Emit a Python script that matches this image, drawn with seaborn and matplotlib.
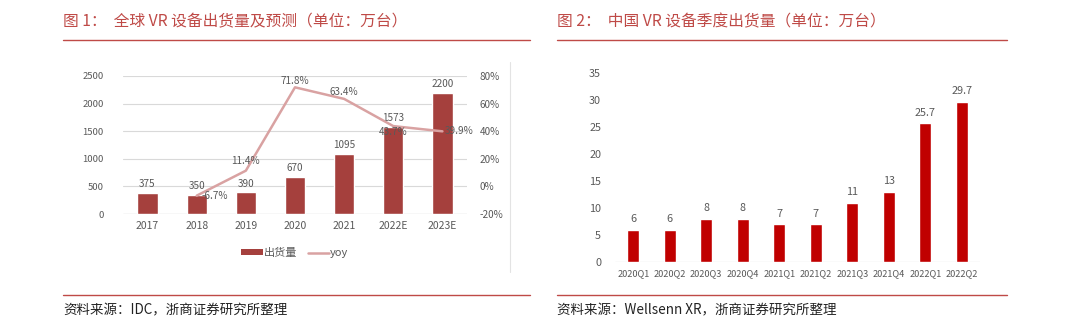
import numpy as np
import pandas as pd
import matplotlib
matplotlib.use("Agg")
import matplotlib.pyplot as plt
from matplotlib.lines import Line2D
from matplotlib.patches import Patch
import seaborn as sns

sns.set_theme(style="white")
plt.rcParams['font.family'] = ['Noto Sans CJK SC', 'DejaVu Sans']

# ---- data ----
years = ["2017", "2018", "2019", "2020", "2021", "2022E", "2023E"]
shipments = [375, 350, 390, 670, 1095, 1573, 2200]
yoy_years = ["2018", "2019", "2020", "2021", "2022E", "2023E"]
yoy = [-6.7, 11.4, 71.8, 63.4, 43.7, 39.9]
left_ticks = [0, 500, 1000, 1500, 2000, 2500]
right_ticks = [-20, 0, 20, 40, 60, 80]

quarters = ["2020Q1", "2020Q2", "2020Q3", "2020Q4", "2021Q1", "2021Q2",
            "2021Q3", "2021Q4", "2022Q1", "2022Q2"]
china = [6, 6, 8, 8, 7, 7, 11, 13, 25.7, 29.7]
china_ticks = [0, 5, 10, 15, 20, 25, 30, 35]

title1 = "图 1：  全球 VR 设备出货量及预测（单位：万台）"
title2 = "图 2：  中国 VR 设备季度出货量（单位：万台）"
src1 = "资料来源：IDC，浙商证券研究所整理"
src2 = "资料来源：Wellsenn XR，浙商证券研究所整理"

# ---- style ----
W, H = 1080, 336
BAR1 = "#A5403D"
LINE1 = "#D9A2A2"
BAR2 = "#C00000"
RED = "#BF4A47"
TXT = "#595959"
GRID = "#D9D9D9"

fig = plt.figure(figsize=(W / 100, H / 100), dpi=100)

def fx(x):
    return x / W

def fy(y):
    return 1 - y / H

# ---------------- left chart ----------------
ax1 = fig.add_axes([fx(123), fy(214), fx(467 - 123), fy(76) - fy(214)])
df1 = pd.DataFrame({"year": years, "val": shipments})
sns.barplot(data=df1, x="year", y="val", color=BAR1, width=0.41,
            saturation=1, ax=ax1, zorder=2)
ax1.set_xlim(-0.5, len(years) - 0.5)
ax1.set_ylim(0, 2500)
ax1.set_yticks(left_ticks)
ax1.set_yticklabels([str(t) for t in left_ticks])
ax1.yaxis.grid(True, color=GRID, linewidth=0.8)
ax1.set_axisbelow(True)
for s in ax1.spines.values():
    s.set_visible(False)
ax1.axhline(0, color=GRID, linewidth=0.9, zorder=1)
ax1.set_xlabel("")
ax1.set_ylabel("")
ax1.tick_params(axis="y", length=0, labelsize=6.8, colors=TXT, pad=14)
ax1.tick_params(axis="x", length=0, labelsize=7.5, colors=TXT, pad=5)
for i, v in enumerate(shipments):
    ax1.text(i, v + 70, str(v), ha="center", va="bottom", fontsize=7.2, color=TXT)

ax2 = ax1.twinx()
pos = [years.index(y) for y in yoy_years]
df2 = pd.DataFrame({"pos": pos, "yoy": yoy})
sns.lineplot(data=df2, x="pos", y="yoy", color=LINE1, linewidth=1.8,
             sort=False, ax=ax2, zorder=3)
ax2.set_ylim(-20, 80)
ax2.set_yticks(right_ticks)
ax2.set_yticklabels([f"{t}%" for t in right_ticks])
ax2.set_xlim(-0.5, len(years) - 0.5)
ax2.set_ylabel("")
ax2.set_xlabel("")
for s in ax2.spines.values():
    s.set_visible(False)
ax2.tick_params(axis="y", length=0, labelsize=7.2, colors=TXT, pad=9)
offsets = {
    "2018": (0.1, 0, "left", "center"),
    "2019": (0.0, 3.5, "center", "bottom"),
    "2020": (0.0, 0.8, "center", "bottom"),
    "2021": (0.0, 1.5, "center", "bottom"),
    "2022E": (0.0, -1.0, "center", "top"),
    "2023E": (0.05, 0, "left", "center"),
}
for y, p, v in zip(yoy_years, pos, yoy):
    dx, dy, ha, va = offsets[y]
    ax2.text(p + dx, v + dy, f"{v}%", ha=ha, va=va, fontsize=7.2, color=TXT, zorder=4)

handles = [Patch(facecolor=BAR1, edgecolor="none"),
           Line2D([0], [0], color=LINE1, linewidth=1.8)]
leg = ax1.legend(handles, ["出货量", "yoy"], loc="center",
                 bbox_to_anchor=(0.5, (fy(253) - fy(214)) / (fy(76) - fy(214))),
                 ncol=2, frameon=False, fontsize=8, handlelength=1.9,
                 handletextpad=0.15, columnspacing=0.9, handleheight=0.5)
for t in leg.get_texts():
    t.set_color(TXT)

# border line on the right of left chart
fig.add_artist(Line2D([fx(510), fx(510)], [fy(62), fy(272)], color="#E3E3E3", linewidth=0.8))

# ---------------- right chart ----------------
ax3 = fig.add_axes([fx(615), fy(262), fx(980 - 615), fy(73) - fy(262)])
df3 = pd.DataFrame({"q": quarters, "val": china})
sns.barplot(data=df3, x="q", y="val", color=BAR2, width=0.33,
            saturation=1, ax=ax3, zorder=2)
ax3.set_xlim(-0.5, len(quarters) - 0.5)
ax3.set_ylim(0, 35)
ax3.set_yticks(china_ticks)
ax3.set_yticklabels([str(t) for t in china_ticks])
for s in ax3.spines.values():
    s.set_visible(False)
ax3.axhline(0, color=GRID, linewidth=0.9, zorder=1)
ax3.set_xlabel("")
ax3.set_ylabel("")
ax3.tick_params(axis="y", length=0, labelsize=7.8, colors=TXT, pad=10)
ax3.tick_params(axis="x", length=0, labelsize=6.6, colors=TXT, pad=5)
for i, v in enumerate(china):
    ax3.text(i, v + 1.0, f"{v:g}", ha="center", va="bottom", fontsize=7.8, color=TXT)

# ---------------- titles, rules, sources ----------------
fig.text(fx(63), fy(22), title1, ha="left", va="center", fontsize=11.3, color=RED)
fig.text(fx(557), fy(22), title2, ha="left", va="center", fontsize=11.3, color=RED)
for x0, x1 in [(63, 530), (557, 1007)]:
    fig.add_artist(Line2D([fx(x0), fx(x1)], [fy(40), fy(40)], color=RED, linewidth=1.0))
    fig.add_artist(Line2D([fx(x0), fx(x1)], [fy(295), fy(295)], color=RED, linewidth=1.0))
fig.text(fx(63), fy(310), src1, ha="left", va="center", fontsize=9.7, color="#222222")
fig.text(fx(557), fy(310), src2, ha="left", va="center", fontsize=9.7, color="#222222")

fig.savefig("out.png", dpi=100, facecolor="white")
